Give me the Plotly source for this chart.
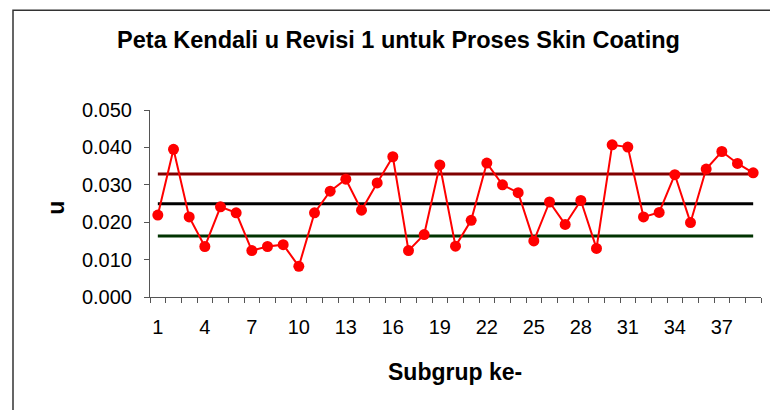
import plotly.graph_objects as go

subgroups = list(range(1, 40))
u_values = [0.0219, 0.0395, 0.0214, 0.0135, 0.0241, 0.0225, 0.0124, 0.0135, 0.0140, 0.0082,
            0.0225, 0.0283, 0.0315, 0.0232, 0.0305, 0.0375, 0.0124, 0.0167, 0.0353, 0.0136,
            0.0205, 0.0358, 0.0300, 0.0279, 0.0150, 0.0254, 0.0194, 0.0258, 0.0130, 0.0407,
            0.0401, 0.0214, 0.0226, 0.0327, 0.0199, 0.0342, 0.0389, 0.0357, 0.0332]
ucl_value = 0.0329
cl_value = 0.0249
lcl_value = 0.0163
x_tick_labels = [1, 4, 7, 10, 13, 16, 19, 22, 25, 28, 31, 34, 37]
y_tick_values = [0.0, 0.01, 0.02, 0.03, 0.04, 0.05]

ucl = [ucl_value] * len(subgroups)
cl = [cl_value] * len(subgroups)
lcl = [lcl_value] * len(subgroups)

FONT = "Liberation Sans, Arial, sans-serif"

fig = go.Figure()
fig.add_trace(go.Scatter(x=subgroups, y=ucl, mode="lines", line=dict(color="#800000", width=3), name="UCL"))
fig.add_trace(go.Scatter(x=subgroups, y=cl, mode="lines", line=dict(color="#000000", width=3), name="CL"))
fig.add_trace(go.Scatter(x=subgroups, y=lcl, mode="lines", line=dict(color="#003300", width=3), name="LCL"))
fig.add_trace(go.Scatter(x=subgroups, y=u_values, mode="lines+markers",
                         line=dict(color="#ff0000", width=2),
                         marker=dict(color="#ff0000", size=11), name="u"))

fig.update_layout(
    width=770, height=410,
    margin=dict(l=150, r=9, t=110, b=112.5),
    paper_bgcolor="white", plot_bgcolor="white",
    showlegend=False,
    font=dict(family=FONT, color="black", size=20),
    xaxis=dict(
        range=[0.5, 39.5], tickmode="array", tickvals=x_tick_labels,
        ticktext=[str(v) for v in x_tick_labels], ticks="", ticklen=0,
        ticklabelstandoff=12,
        showgrid=False, zeroline=False, showline=True, linecolor="#555555", linewidth=1,
        tickfont=dict(size=20, family=FONT),
        minor=dict(tick0=0.5, dtick=1, ticks="outside", ticklen=5, tickcolor="#555555", showgrid=False),
    ),
    yaxis=dict(
        range=[0, 0.05], tickmode="array", tickvals=y_tick_values, tickformat=".3f",
        ticks="outside", ticklen=5, tickcolor="#555555", ticklabelstandoff=8,
        showgrid=False, zeroline=False, showline=True, linecolor="#555555", linewidth=1,
        tickfont=dict(size=20, family=FONT),
    ),
    title=dict(text="<b>Peta Kendali u Revisi 1 untuk Proses Skin Coating</b>",
               x=398.5 / 770, xref="container", xanchor="center",
               y=1 - 40 / 410, yref="container", yanchor="middle",
               font=dict(size=23.5, family=FONT, color="black")),
    annotations=[
        dict(text="<b>u</b>", xref="paper", yref="paper",
             x=(56 - 150) / 611, y=(297.5 - 208) / 187.5, showarrow=False,
             textangle=-90, font=dict(size=23, family=FONT, color="black"),
             xanchor="center", yanchor="middle"),
        dict(text="<b>Subgrup ke-</b>", xref="paper", yref="paper",
             x=(455 - 150) / 611, y=(297.5 - 373) / 187.5, showarrow=False,
             font=dict(size=23, family=FONT, color="black"),
             xanchor="center", yanchor="middle"),
    ],
    shapes=[
        dict(type="rect", xref="paper", yref="paper",
             x0=(13 - 150) / 611, x1=(790 - 150) / 611,
             y0=(297.5 - 430) / 187.5, y1=(297.5 - 10) / 187.5,
             line=dict(color="#333333", width=1.5), fillcolor="rgba(0,0,0,0)", layer="below"),
    ],
)

fig.write_html("out.html", config={"displayModeBar": False},
               post_script="document.body.style.margin='0';document.body.style.overflow='hidden';")
